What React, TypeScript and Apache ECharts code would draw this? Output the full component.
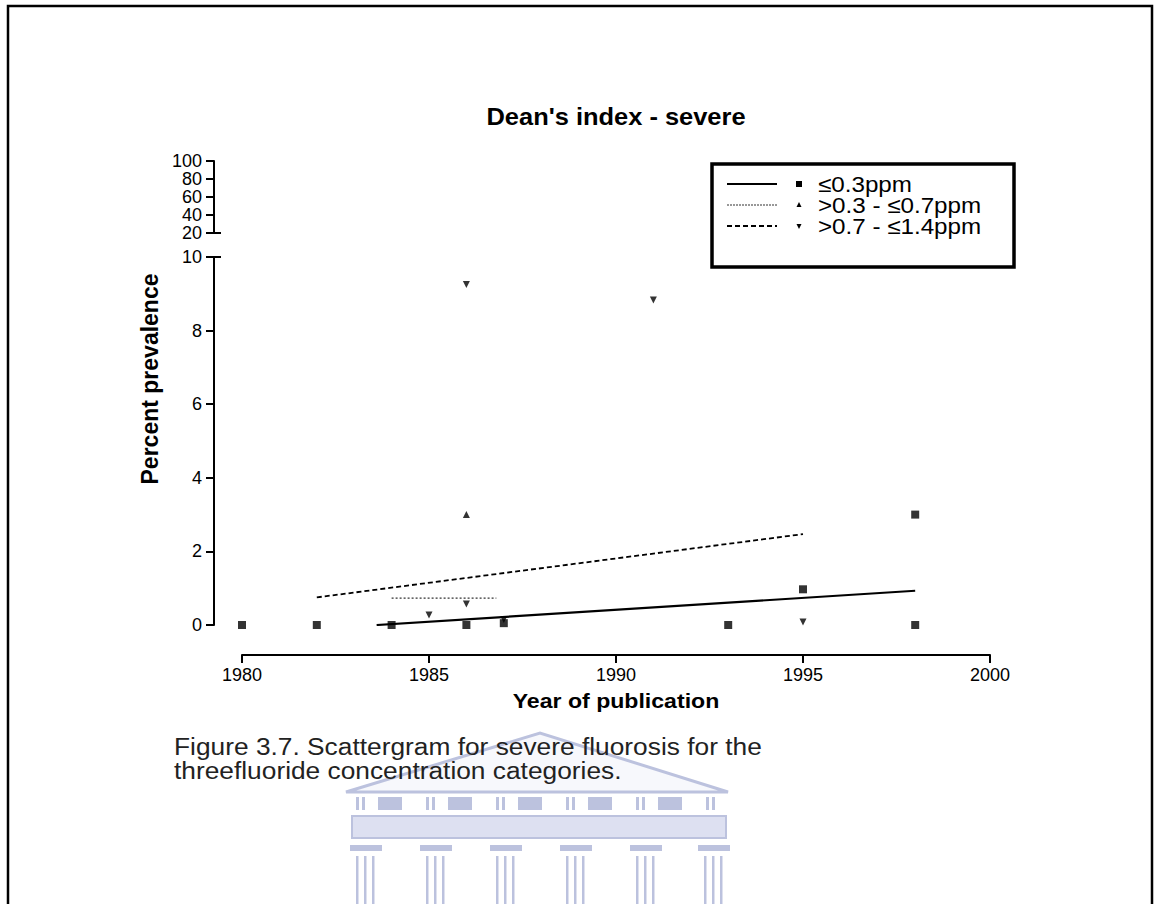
import React, { useEffect, useRef } from "react";
import * as echarts from "echarts";

const chartTitle = "Dean's index - severe";
const xAxisName = "Year of publication";
const yAxisName = "Percent prevalence";
const seriesNames = ["≤0.3ppm", ">0.3 - ≤0.7ppm", ">0.7 - ≤1.4ppm"];

// ≤0.3ppm (squares)
const lowYears = [1980, 1982, 1984, 1986, 1987, 1993, 1995, 1998, 1998];
const lowValues = [0, 0, 0, 0, 0.05, 0, 0.97, 3.0, 0];
// >0.3 - ≤0.7ppm (triangles)
const midYears = [1986];
const midValues = [3.0];
// >0.7 - ≤1.4ppm (inverted triangles)
const highYears = [1985, 1986, 1986, 1987, 1991, 1995];
const highValues = [0.27, 0.57, 9.25, 0.15, 8.83, 0.08];

// fitted lines
const lowFitYears = [1983.6, 1998];
const lowFitValues = [0.0, 0.93];
const midFitYears = [1984, 1986.8];
const midFitValues = [0.73, 0.73];
const highFitYears = [1982, 1995];
const highFitValues = [0.75, 2.47];

const xMin = 1980;
const xMax = 2000;
const xStep = 5;
const lowerMin = 0;
const lowerMax = 10;
const lowerStep = 2;
const upperMin = 20;
const upperMax = 100;
const upperStep = 20;

const captionLines = [
  "Figure 3.7. Scattergram for severe fluorosis for the",
  "threefluoride concentration categories.",
];

const FONT = "'Liberation Sans', Arial, Helvetica, sans-serif";
const zip = (xs: number[], ys: number[]) => xs.map((x, i) => [x, ys[i]]);
const DOWN_TRI = "path://M0,0 L10,0 L5,10 Z";

export default function App() {
  const ref = useRef<HTMLDivElement>(null);
  useEffect(() => {
    if (!ref.current) return;
    const chart = echarts.init(ref.current, undefined, { renderer: "svg" });
    const axisLine = { show: true, onZero: false, lineStyle: { color: "#000", width: 2 } };
    const axisTick = { show: true, length: 8, lineStyle: { color: "#000", width: 2 } };
    const axisLabel = { color: "#000", fontSize: 18, fontFamily: FONT, margin: 12 };
    const gridL = 242;
    const gridR = 171;
    const yOffset = 28;

    const option: any = {
      animation: false,
      backgroundColor: "#fff",
      grid: [
        { left: gridL, right: gridR, top: 161, height: 72 },
        { left: gridL, right: gridR, top: 257, height: 368 },
      ],
      xAxis: [
        { gridIndex: 0, type: "value", min: xMin, max: xMax, show: false },
        {
          gridIndex: 1,
          type: "value",
          min: xMin,
          max: xMax,
          interval: xStep,
          offset: 30,
          axisLine,
          axisTick,
          axisLabel: { ...axisLabel, margin: 11, formatter: (v: number) => String(v) },
          splitLine: { show: false },
        },
      ],
      yAxis: [
        {
          gridIndex: 0,
          type: "value",
          min: upperMin,
          max: upperMax,
          interval: upperStep,
          offset: yOffset,
          axisLine,
          axisTick,
          axisLabel,
          splitLine: { show: false },
        },
        {
          gridIndex: 1,
          type: "value",
          min: lowerMin,
          max: lowerMax,
          interval: lowerStep,
          offset: yOffset,
          axisLine,
          axisTick,
          axisLabel,
          splitLine: { show: false },
        },
      ],
      series: [
        {
          name: seriesNames[0] + " fit",
          type: "line",
          xAxisIndex: 1,
          yAxisIndex: 1,
          data: zip(lowFitYears, lowFitValues),
          symbol: "none",
          lineStyle: { color: "#000", width: 2.2 },
        },
        {
          name: seriesNames[1] + " fit",
          type: "line",
          xAxisIndex: 1,
          yAxisIndex: 1,
          data: zip(midFitYears, midFitValues),
          symbol: "none",
          lineStyle: { color: "#333", width: 1.2, type: [2, 2] },
        },
        {
          name: seriesNames[2] + " fit",
          type: "line",
          xAxisIndex: 1,
          yAxisIndex: 1,
          data: zip(highFitYears, highFitValues),
          symbol: "none",
          lineStyle: { color: "#000", width: 1.8, type: [5, 3] },
        },
        {
          name: seriesNames[0],
          type: "scatter",
          xAxisIndex: 1,
          yAxisIndex: 1,
          data: zip(lowYears, lowValues),
          symbol: "rect",
          symbolSize: 8,
          itemStyle: { color: "#000" },
        },
        {
          name: seriesNames[1],
          type: "scatter",
          xAxisIndex: 1,
          yAxisIndex: 1,
          data: zip(midYears, midValues),
          symbol: "triangle",
          symbolSize: 7,
          itemStyle: { color: "#000" },
        },
        {
          name: seriesNames[2],
          type: "scatter",
          xAxisIndex: 1,
          yAxisIndex: 1,
          data: zip(highYears, highValues),
          symbol: DOWN_TRI,
          symbolSize: 7,
          itemStyle: { color: "#000" },
        },
      ],
    };
    chart.setOption(option);

    // positions derived from the axes
    const xLeft = chart.convertToPixel({ xAxisIndex: 1 }, xMin) as number;
    const xRight = chart.convertToPixel({ xAxisIndex: 1 }, xMax) as number;
    const axisX = xLeft - yOffset;
    const yUpperBottom = chart.convertToPixel({ yAxisIndex: 0 }, upperMin) as number;
    const yUpperTop = chart.convertToPixel({ yAxisIndex: 0 }, upperMax) as number;
    const yLowerTop = chart.convertToPixel({ yAxisIndex: 1 }, lowerMax) as number;
    const yLowerBottom = chart.convertToPixel({ yAxisIndex: 1 }, lowerMin) as number;
    const xCenter = (xLeft + xRight) / 2;

    const wm = "#bcc2de";
    const wmFill = "#dde0f1";
    const colCenters = [366, 436, 506, 576, 646, 714];
    const watermark: any[] = [
      {
        type: "polygon",
        shape: { points: [[346, 792], [540, 733], [728, 792]] },
        style: { fill: "rgba(228,231,244,0.3)", stroke: wm, lineWidth: 3 },
        z: 1,
      },
      {
        type: "rect",
        shape: { x: 352, y: 816, width: 374, height: 22 },
        style: { fill: wmFill, stroke: wm, lineWidth: 2 },
        z: 1,
      },
    ];
    for (let i = 0; i < 6; i++) {
      const x0 = 356 + i * 70;
      watermark.push({ type: "rect", shape: { x: x0, y: 797, width: 3, height: 13 }, style: { fill: wm }, z: 1 });
      watermark.push({ type: "rect", shape: { x: x0 + 6, y: 797, width: 3, height: 13 }, style: { fill: wm }, z: 1 });
      if (i < 5)
        watermark.push({ type: "rect", shape: { x: x0 + 22, y: 797, width: 24, height: 13 }, style: { fill: wm }, z: 1 });
    }
    colCenters.forEach((c) => {
      watermark.push({ type: "rect", shape: { x: c - 16, y: 845, width: 32, height: 6 }, style: { fill: wm }, z: 1 });
      watermark.push({ type: "rect", shape: { x: c - 10, y: 856, width: 2.5, height: 60 }, style: { fill: wm }, z: 1 });
      watermark.push({ type: "rect", shape: { x: c - 2, y: 856, width: 2.5, height: 60 }, style: { fill: wm }, z: 1 });
      watermark.push({ type: "rect", shape: { x: c + 6, y: 856, width: 2.5, height: 60 }, style: { fill: wm }, z: 1 });
    });

    const legendRows = [184, 205, 226];
    const lgLineX1 = 727;
    const lgLineX2 = 777;
    const lgMarkX = 799;
    const lgTextX = 818;

    chart.setOption({
      graphic: [
        // page frame
        {
          type: "rect",
          shape: { x: 8, y: 6, width: 1144, height: 1000 },
          style: { fill: "none", stroke: "#000", lineWidth: 2.5 },
          z: 0,
        },
        ...watermark,
        // title
        {
          type: "text",
          x: xCenter,
          y: 117,
          scaleX: 1.06,
          style: {
            text: chartTitle,
            font: `bold 24px ${FONT}`,
            fill: "#000",
            align: "center",
            verticalAlign: "middle",
          },
        },
        // x axis name
        {
          type: "text",
          x: xCenter,
          y: 701,
          scaleX: 1.1,
          style: {
            text: xAxisName,
            font: `bold 21px ${FONT}`,
            fill: "#000",
            align: "center",
            verticalAlign: "middle",
          },
        },
        // y axis name
        {
          type: "text",
          x: 150,
          y: (yUpperTop + yLowerBottom) / 2 - 14,
          rotation: Math.PI / 2,
          style: {
            text: yAxisName,
            font: `bold 23px ${FONT}`,
            fill: "#000",
            align: "center",
            verticalAlign: "middle",
          },
        },
        // caption
        {
          type: "text",
          x: 174,
          y: 735,
          scaleX: 1.12,
          style: {
            text: captionLines.join("\n"),
            font: `23.5px ${FONT}`,
            fill: "#222",
            lineHeight: 24,
          },
          z: 2,
        },
        // broken-axis caps
        {
          type: "line",
          shape: { x1: axisX - 1, y1: yUpperBottom, x2: axisX + 7, y2: yUpperBottom },
          style: { stroke: "#000", lineWidth: 2 },
        },
        {
          type: "line",
          shape: { x1: axisX - 1, y1: yLowerTop, x2: axisX + 7, y2: yLowerTop },
          style: { stroke: "#000", lineWidth: 2 },
        },
        // legend box
        {
          type: "rect",
          shape: { x: 712, y: 164, width: 302, height: 103 },
          style: { fill: "#fff", stroke: "#000", lineWidth: 3.5 },
          z: 10,
        },
        {
          type: "line",
          shape: { x1: lgLineX1, y1: legendRows[0], x2: lgLineX2, y2: legendRows[0] },
          style: { stroke: "#000", lineWidth: 2 },
          z: 11,
        },
        {
          type: "line",
          shape: { x1: lgLineX1, y1: legendRows[1], x2: lgLineX2, y2: legendRows[1] },
          style: { stroke: "#333", lineWidth: 1.2, lineDash: [2, 1] },
          z: 11,
        },
        {
          type: "line",
          shape: { x1: lgLineX1, y1: legendRows[2], x2: lgLineX2, y2: legendRows[2] },
          style: { stroke: "#000", lineWidth: 1.8, lineDash: [5, 3] },
          z: 11,
        },
        {
          type: "rect",
          shape: { x: lgMarkX - 3, y: legendRows[0] - 3, width: 6, height: 6 },
          style: { fill: "#000" },
          z: 11,
        },
        {
          type: "polygon",
          shape: { points: [[lgMarkX - 2.5, legendRows[1] + 2], [lgMarkX + 2.5, legendRows[1] + 2], [lgMarkX, legendRows[1] - 3]] },
          style: { fill: "#000" },
          z: 11,
        },
        {
          type: "polygon",
          shape: { points: [[lgMarkX - 2.5, legendRows[2] - 2], [lgMarkX + 2.5, legendRows[2] - 2], [lgMarkX, legendRows[2] + 3]] },
          style: { fill: "#000" },
          z: 11,
        },
        ...seriesNames.map((n, i) => ({
          type: "text",
          x: lgTextX,
          y: legendRows[i],
          scaleX: 1.1,
          style: { text: n, font: `22px ${FONT}`, fill: "#000", verticalAlign: "middle" },
          z: 11,
        })),
      ],
    });

    return () => chart.dispose();
  }, []);

  return (
    <div
      ref={ref}
      style={{ position: "fixed", left: 0, top: 0, width: 1161, height: 904, background: "#fff" }}
    />
  );
}
